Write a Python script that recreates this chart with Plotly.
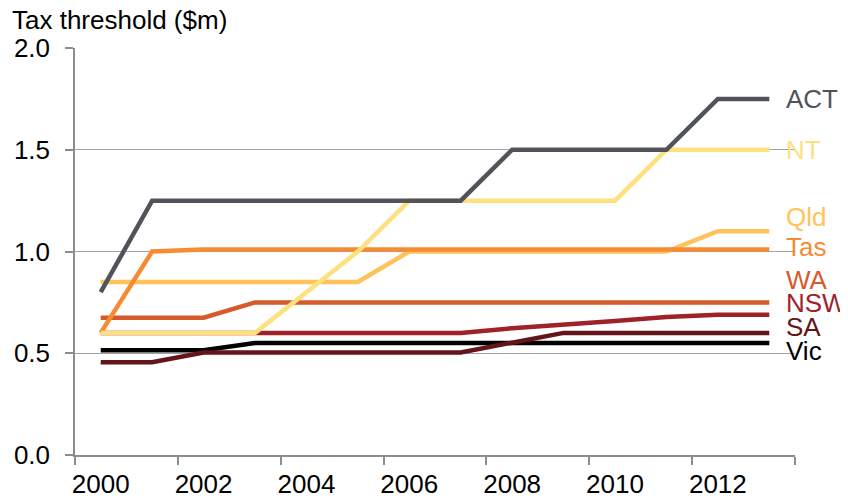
import plotly.graph_objects as go

years = list(range(2000, 2014))

act = [0.80, 1.25, 1.25, 1.25, 1.25, 1.25, 1.25, 1.25, 1.50, 1.50, 1.50, 1.50, 1.75, 1.75]
nt = [0.60, 0.60, 0.60, 0.60, 0.80, 1.00, 1.25, 1.25, 1.25, 1.25, 1.25, 1.50, 1.50, 1.50]
qld = [0.85, 0.85, 0.85, 0.85, 0.85, 0.85, 1.00, 1.00, 1.00, 1.00, 1.00, 1.00, 1.10, 1.10]
tas = [0.60, 1.00, 1.01, 1.01, 1.01, 1.01, 1.01, 1.01, 1.01, 1.01, 1.01, 1.01, 1.01, 1.01]
wa = [0.675, 0.675, 0.675, 0.75, 0.75, 0.75, 0.75, 0.75, 0.75, 0.75, 0.75, 0.75, 0.75, 0.75]
nsw = [0.60, 0.60, 0.60, 0.60, 0.60, 0.60, 0.60, 0.60, 0.623, 0.638, 0.658, 0.678, 0.689, 0.689]
sa = [0.456, 0.456, 0.504, 0.504, 0.504, 0.504, 0.504, 0.504, 0.552, 0.60, 0.60, 0.60, 0.60, 0.60]
vic = [0.515, 0.515, 0.515, 0.55, 0.55, 0.55, 0.55, 0.55, 0.55, 0.55, 0.55, 0.55, 0.55, 0.55]

x_tick_labels = ["2000", "2002", "2004", "2006", "2008", "2010", "2012"]

# drawing order bottom -> top
series = [
    ("Vic", vic, "#000000", -8),
    ("SA", sa, "#641519", 6),
    ("NSW", nsw, "#A02229", 12),
    ("WA", wa, "#D65A2A", 22),
    ("Qld", qld, "#FFC35A", 14),
    ("Tas", tas, "#F68B33", 2),
    ("NT", nt, "#FFE07F", 0),
    ("ACT", act, "#50545A", 0),
]

FONT = "Liberation Sans, Arial, Helvetica, sans-serif"
FS = 26
GRID = "#A3A3A3"
AXIS = "#8C8C8C"

fig = go.Figure()
annotations = []
for name, vals, color, yshift in series:
    fig.add_trace(go.Scatter(
        x=years, y=vals, mode="lines", name=name,
        line=dict(color=color, width=4.5),
        showlegend=False,
    ))
    annotations.append(dict(
        x=years[-1] + 0.5, y=vals[-1], xref="x", yref="y",
        text=name, showarrow=False, xanchor="left", yanchor="middle",
        xshift=-11, yshift=yshift,
        font=dict(family=FONT, size=FS, color=color),
    ))

annotations.append(dict(
    x=0, y=1, xref="paper", yref="paper", text="Tax threshold ($m)",
    showarrow=False, xanchor="left", yanchor="middle", xshift=-65, yshift=28,
    font=dict(family=FONT, size=FS, color="#000000"),
))

# the page body adds an 8px offset, so the figure is 8px smaller on each axis
fig.update_layout(
    width=840, height=493,
    margin=dict(l=67, r=53, t=40, b=46),
    paper_bgcolor="white", plot_bgcolor="white",
    font=dict(family=FONT, size=FS, color="#000000"),
    annotations=annotations,
    xaxis=dict(
        range=[1999.5, 2013.5], automargin=False,
        tickvals=[int(t) for t in x_tick_labels], ticktext=x_tick_labels,
        ticks="", showgrid=False, zeroline=False,
        showline=True, linecolor=AXIS, linewidth=1.5,
        ticklabelstandoff=5,
        minor=dict(tickvals=[y - 0.5 for y in years[::2]] + [years[-1] + 0.5],
                   ticks="outside", ticklen=8, tickcolor=AXIS, tickwidth=1.5, showgrid=False),
        tickfont=dict(family=FONT, size=FS, color="#000000"),
    ),
    yaxis=dict(
        range=[0, 2], dtick=0.5, tickformat=".1f", automargin=False,
        ticks="outside", ticklen=8, tickcolor=AXIS, tickwidth=1.5,
        ticklabelstandoff=10,
        showgrid=True, gridcolor=GRID, gridwidth=1.2, zeroline=False,
        showline=True, linecolor=AXIS, linewidth=1.5,
        tickfont=dict(family=FONT, size=FS, color="#000000"),
    ),
)

fig.write_html("out.html")
